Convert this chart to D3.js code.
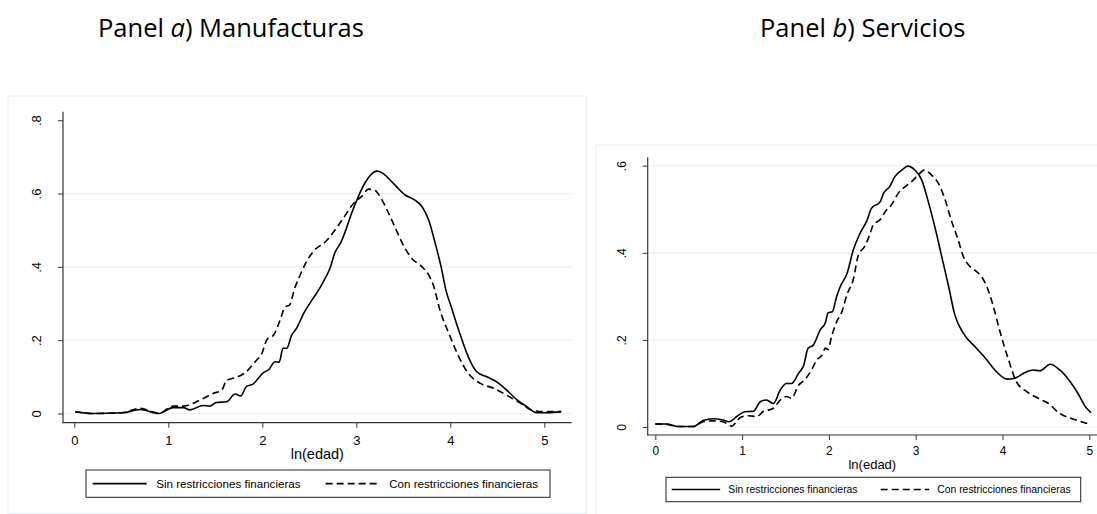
<!DOCTYPE html>
<html>
<head>
<meta charset="utf-8">
<script src="https://cdn.jsdelivr.net/npm/d3@7"></script>
<style>
  body { margin: 0; background: #fff; }
  svg { display: block; }
  .tick text { font-family: "Liberation Sans", Arial, sans-serif; fill: #000; }
</style>
</head>
<body>
<script>
// ln(edad) density, panel a) manufacturas
const manufSin = [[0.01,0.005],[0.2,0.0],[0.52,0.002],[0.7,0.011],[0.9,0.0],[1.05,0.016],[1.16,0.016],[1.23,0.01],[1.37,0.022],[1.44,0.02],[1.51,0.03],[1.62,0.032],[1.71,0.053],[1.77,0.048],[1.83,0.073],[1.90,0.08],[2.01,0.111],[2.07,0.12],[2.135,0.141],[2.18,0.14],[2.22,0.178],[2.26,0.178],[2.31,0.212],[2.37,0.235],[2.44,0.273],[2.53,0.31],[2.60,0.337],[2.65,0.36],[2.72,0.396],[2.77,0.437],[2.84,0.469],[2.90,0.509],[2.95,0.546],[3.02,0.591],[3.09,0.628],[3.15,0.65],[3.22,0.661],[3.27,0.657],[3.36,0.637],[3.43,0.618],[3.52,0.596],[3.61,0.584],[3.70,0.564],[3.77,0.528],[3.84,0.464],[3.91,0.391],[3.95,0.34],[4.01,0.291],[4.10,0.219],[4.19,0.155],[4.28,0.114],[4.40,0.099],[4.49,0.087],[4.60,0.064],[4.71,0.037],[4.81,0.019],[4.92,0.002],[5.03,0.002],[5.18,0.005]];
const manufCon = [[0.01,0.005],[0.2,0.0],[0.5,0.002],[0.7,0.014],[0.9,0.001],[1.05,0.02],[1.16,0.02],[1.34,0.037],[1.48,0.055],[1.57,0.064],[1.62,0.091],[1.69,0.096],[1.83,0.114],[1.94,0.146],[1.99,0.16],[2.05,0.202],[2.12,0.214],[2.19,0.255],[2.24,0.29],[2.29,0.296],[2.35,0.346],[2.38,0.364],[2.47,0.414],[2.54,0.441],[2.69,0.473],[2.76,0.496],[2.86,0.532],[2.97,0.573],[3.06,0.593],[3.13,0.612],[3.20,0.608],[3.25,0.593],[3.32,0.559],[3.41,0.509],[3.50,0.459],[3.59,0.423],[3.70,0.40],[3.77,0.378],[3.82,0.35],[3.89,0.282],[4.00,0.209],[4.09,0.155],[4.19,0.11],[4.32,0.082],[4.46,0.069],[4.60,0.05],[4.74,0.029],[4.88,0.008],[4.99,0.005],[5.18,0.005]];

// panel b) servicios
const servSin = [[0.0,0.007],[0.13,0.007],[0.265,0.001],[0.44,0.001],[0.55,0.015],[0.67,0.019],[0.78,0.016],[0.85,0.012],[0.94,0.024],[1.03,0.035],[1.13,0.036],[1.21,0.058],[1.28,0.062],[1.36,0.054],[1.44,0.085],[1.51,0.1],[1.57,0.1],[1.65,0.123],[1.71,0.142],[1.76,0.181],[1.82,0.188],[1.90,0.223],[1.96,0.24],[1.99,0.262],[2.04,0.265],[2.09,0.3],[2.13,0.322],[2.21,0.353],[2.28,0.406],[2.36,0.445],[2.44,0.475],[2.49,0.502],[2.59,0.517],[2.63,0.537],[2.70,0.552],[2.76,0.575],[2.84,0.59],[2.91,0.599],[2.99,0.59],[3.07,0.567],[3.14,0.521],[3.22,0.46],[3.30,0.391],[3.38,0.322],[3.45,0.258],[3.55,0.215],[3.70,0.181],[3.82,0.154],[3.93,0.127],[4.05,0.11],[4.14,0.112],[4.26,0.125],[4.35,0.131],[4.43,0.129],[4.55,0.144],[4.66,0.131],[4.78,0.104],[4.87,0.077],[4.95,0.048],[5.02,0.033]];
const servCon = [[0.0,0.007],[0.13,0.006],[0.265,0.001],[0.44,0.001],[0.55,0.012],[0.67,0.014],[0.78,0.012],[0.88,0.002],[0.98,0.022],[1.07,0.026],[1.17,0.024],[1.24,0.035],[1.36,0.043],[1.44,0.062],[1.51,0.07],[1.57,0.066],[1.65,0.096],[1.72,0.108],[1.80,0.131],[1.86,0.154],[1.92,0.165],[1.96,0.181],[1.99,0.178],[2.03,0.207],[2.09,0.242],[2.15,0.265],[2.21,0.305],[2.28,0.338],[2.34,0.395],[2.41,0.414],[2.47,0.441],[2.51,0.464],[2.59,0.476],[2.65,0.495],[2.72,0.51],[2.80,0.537],[2.88,0.552],[2.95,0.563],[3.03,0.579],[3.10,0.59],[3.18,0.579],[3.26,0.56],[3.34,0.521],[3.41,0.475],[3.49,0.429],[3.55,0.391],[3.61,0.372],[3.68,0.36],[3.76,0.345],[3.82,0.322],[3.89,0.28],[3.97,0.22],[4.07,0.154],[4.16,0.104],[4.28,0.081],[4.41,0.066],[4.53,0.054],[4.66,0.031],[4.82,0.018],[4.99,0.007]];

const xTicks = [0, 1, 2, 3, 4, 5];
const yTicksA = [0, 0.2, 0.4, 0.6, 0.8];
const yTicksB = [0, 0.2, 0.4, 0.6];
const legendLabels = ["Sin restricciones financieras", "Con restricciones financieras"];
const xTitle = "ln(edad)";

const W = 1097, H = 514;
const svg = d3.select("body").append("svg").attr("width", W).attr("height", H);

const fmt = d => d === 0 ? "0" : d3.format(".1f")(d).replace(/^0/, "");

function panel(o) {
  const x = d3.scaleLinear().domain([0, 5]).range([o.x0, o.x5]);
  const y = d3.scaleLinear().domain([0, o.yMax]).range([o.y0, o.yTop]);
  const g = svg.append("g");

  // outer frame
  g.append("rect")
    .attr("x", o.frame[0]).attr("y", o.frame[1])
    .attr("width", o.frame[2]).attr("height", o.frame[3])
    .attr("fill", "none").attr("stroke", "#e6eff1").attr("stroke-width", 1);

  // grid
  g.selectAll("line.grid")
    .data(o.grid)
    .enter()
    .append("line")
    .attr("class", "grid")
    .attr("x1", o.axX + 1).attr("x2", o.axRight)
    .attr("y1", d => y(d)).attr("y2", d => y(d))
    .attr("stroke", "#e9f1f3").attr("stroke-width", 1.2);

  // axes
  const ay = g.append("g").attr("transform", `translate(${o.axX},0)`)
    .call(d3.axisLeft(y).tickValues(o.yTicks).tickSize(5).tickFormat(fmt));
  ay.select(".domain").remove();
  ay.selectAll(".tick line").attr("stroke", "#333");
  ay.selectAll(".tick text")
    .attr("x", 0).attr("dy", 0).attr("y", -21.7)
    .attr("text-anchor", "middle")
    .attr("transform", "rotate(-90)")
    .style("font-size", o.tickFont + "px");

  const ax = g.append("g").attr("transform", `translate(0,${o.axY})`)
    .call(d3.axisBottom(x).tickValues(xTicks).tickSize(5).tickFormat(d3.format("d")));
  ax.select(".domain").remove();
  ax.selectAll(".tick line").attr("stroke", "#333");
  ax.selectAll(".tick text")
    .attr("dy", 0).attr("y", o.xLabOff)
    .style("font-size", o.tickFont + "px");

  g.append("line").attr("x1", o.axX).attr("x2", o.axX)
    .attr("y1", o.axTop).attr("y2", o.axY + 0.5)
    .attr("stroke", "#333").attr("stroke-width", 1.2);
  g.append("line").attr("x1", o.axX).attr("x2", o.axRight)
    .attr("y1", o.axY).attr("y2", o.axY)
    .attr("stroke", "#333").attr("stroke-width", 1.2);

  g.append("text")
    .attr("x", (o.axX + o.axRight) / 2).attr("y", o.titleY)
    .attr("text-anchor", "middle")
    .style("font-family", "'Liberation Sans', Arial, sans-serif")
    .style("font-size", o.titleFont + "px")
    .text(xTitle);

  // curves
  const line = d3.line().x(d => x(d[0])).y(d => y(d[1])).curve(d3.curveMonotoneX);
  g.append("path").datum(o.sin).attr("d", line)
    .attr("fill", "none").attr("stroke", "#000").attr("stroke-width", 1.6);
  g.append("path").datum(o.con).attr("d", line)
    .attr("fill", "none").attr("stroke", "#000").attr("stroke-width", 1.6)
    .attr("stroke-dasharray", "7,4");

  // legend
  const L = o.legend;
  g.append("rect").attr("x", L.x).attr("y", L.y).attr("width", L.w).attr("height", L.h)
    .attr("fill", "#fff").attr("stroke", "#222").attr("stroke-width", 1);
  const items = g.selectAll("g.leg")
    .data(legendLabels)
    .enter()
    .append("g")
    .attr("class", "leg")
    .attr("transform", (d, i) => `translate(${L.items[i]},${L.y + L.h / 2})`);
  items.append("line")
    .attr("x1", 0).attr("x2", L.sample)
    .attr("stroke", "#000").attr("stroke-width", 1.6)
    .attr("stroke-dasharray", (d, i) => i ? "7,4" : null);
  items.append("text")
    .attr("x", L.sample + L.gap).attr("y", L.font * 0.36)
    .style("font-family", "'Liberation Sans', Arial, sans-serif")
    .style("font-size", L.font + "px")
    .text(d => d);

  // panel title
  const t = svg.append("text")
    .attr("x", o.headX).attr("y", 36.5)
    .style("font-family", "'Open Sans', sans-serif")
    .style("font-size", "25.5px");
  t.append("tspan").text("Panel ");
  t.append("tspan").style("font-style", "italic").text(o.letter);
  t.append("tspan").text(") " + o.name);
}

panel({
  sin: manufSin, con: manufCon, yMax: 0.8, yTicks: yTicksA, grid: [0, 0.2, 0.4, 0.6],
  x0: 74.3, x5: 544.3, y0: 413.5, yTop: 120.2,
  axX: 63, axY: 422.7, axTop: 111.7, axRight: 571.7,
  frame: [8, 96, 578.7, 417.5],
  tickFont: 13, xLabOff: 22.3, titleFont: 14.5, titleY: 459,
  legend: { x: 86, y: 470, w: 464, h: 27.3, items: [92.7, 325.7], sample: 54, gap: 9.5, font: 11.6 },
  headX: 98, letter: "a", name: "Manufacturas"
});

panel({
  sin: servSin, con: servCon, yMax: 0.6, yTicks: yTicksB, grid: [0, 0.2, 0.4, 0.6],
  x0: 655.3, x5: 1089.3, y0: 427, yTop: 165.7,
  axX: 647.7, axY: 435, axTop: 157.3, axRight: 1097,
  frame: [596, 145, 520, 400],
  tickFont: 12, xLabOff: 20, titleFont: 13, titleY: 468.5,
  legend: { x: 666, y: 477.3, w: 414.7, h: 24.4, items: [671.7, 880.7], sample: 48.5, gap: 8, font: 10.4 },
  headX: 760, letter: "b", name: "Servicios"
});
</script>
</body>
</html>
